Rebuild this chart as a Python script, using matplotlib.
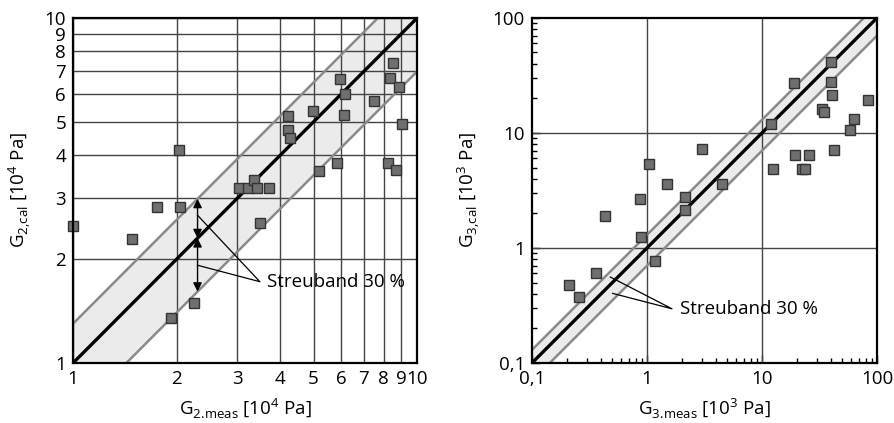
import matplotlib
matplotlib.use("Agg")
import matplotlib.pyplot as plt
from matplotlib.ticker import FixedLocator, FixedFormatter, NullFormatter, LogLocator
import numpy as np

plt.rcParams['font.family'] = ['Open Sans', 'DejaVu Sans']
plt.rcParams['mathtext.fontset'] = 'custom'
plt.rcParams['mathtext.rm'] = 'Open Sans'

# left panel: G2 [10^4 Pa]
g2_meas = [1.0, 1.48, 1.75, 2.03, 2.05, 1.92, 2.25, 3.04, 3.23, 3.35, 3.43, 3.71, 3.50,
           4.21, 4.21, 4.26, 4.99, 5.18, 5.84, 5.97, 6.16, 6.12, 7.48, 8.33, 8.53, 8.85,
           9.04, 8.24, 8.67]
g2_cal = [2.49, 2.28, 2.83, 4.13, 2.83, 1.35, 1.49, 3.21, 3.21, 3.38, 3.21, 3.21, 2.55,
          5.20, 4.74, 4.49, 5.36, 3.61, 3.81, 6.65, 6.02, 5.23, 5.75, 6.68, 7.41, 6.30,
          4.92, 3.79, 3.62]

# right panel: G3 [10^3 Pa]
g3_meas = [0.211, 0.255, 0.360, 0.434, 0.875, 0.886, 1.04, 1.18, 1.49, 2.13, 2.13, 3.01,
           4.49, 11.9, 12.5, 19.1, 19.4, 22.1, 23.8, 25.5, 33.5, 34.8, 40.1, 40.1, 40.9,
           42.6, 57.8, 62.6, 83.0]
g3_cal = [0.475, 0.374, 0.605, 1.91, 2.64, 1.24, 5.40, 0.77, 3.57, 2.79, 2.14, 7.21,
          3.57, 12.05, 4.82, 27.3, 6.38, 4.82, 4.82, 6.38, 16.2, 15.2, 41.3, 27.9, 21.3,
          7.11, 10.6, 13.2, 19.4]

band_hi = 1.3
band_lo = 0.7

left_ticks = [1, 2, 3, 4, 5, 6, 7, 8, 9, 10]
left_labels = ['1', '2', '3', '4', '5', '6', '7', '8', '9', '10']
right_ticks = [0.1, 1, 10, 100]
right_labels = ['0,1', '1', '10', '100']

fs = 13.5
band_fill = '#ebebeb'
band_edge = '#8a8a8a'
grid_col = '#444444'

fig = plt.figure(figsize=(8.94, 4.23), dpi=100)
ax1 = fig.add_axes([0.0817, 0.1418, 0.385, 0.816])
ax2 = fig.add_axes([0.595, 0.1418, 0.386, 0.816])


def draw_band(ax, lo, hi):
    xs = np.array([lo / 2, hi * 2])
    ax.fill_between(xs, xs * band_lo, xs * band_hi, color=band_fill, zorder=1, lw=0)
    ax.plot(xs, xs * band_hi, color=band_edge, lw=1.8, zorder=3)
    ax.plot(xs, xs * band_lo, color=band_edge, lw=1.8, zorder=3)
    ax.plot(xs, xs, color='black', lw=2.4, zorder=4)


def scatter(ax, x, y):
    ax.plot(x, y, 's', ms=7.5, mfc='#6f6f6f', mec='#333333', mew=1.0, zorder=6,
            clip_on=False)


# ---------------- left panel
ax = ax1
ax.set_xscale('log')
ax.set_yscale('log')
ax.set_xlim(1, 10)
ax.set_ylim(1, 10)
draw_band(ax, 1, 10)
for v in left_ticks:
    ax.axvline(v, color=grid_col, lw=1.0, zorder=2)
    ax.axhline(v, color=grid_col, lw=1.0, zorder=2)
scatter(ax, g2_meas, g2_cal)
ax.xaxis.set_major_locator(FixedLocator(left_ticks))
ax.xaxis.set_major_formatter(FixedFormatter(left_labels))
ax.yaxis.set_major_locator(FixedLocator(left_ticks))
ax.yaxis.set_major_formatter(FixedFormatter(left_labels))
ax.xaxis.set_minor_formatter(NullFormatter())
ax.yaxis.set_minor_formatter(NullFormatter())
ax.tick_params(which='both', length=0, labelsize=fs, pad=5)
ax.set_xlabel(r'G$_{\mathregular{2.\!meas}}$ [10$^{\mathregular{4}}$ Pa]', fontsize=fs,
              labelpad=6)
ax.set_ylabel(r'G$_{\mathregular{2{,}cal}}$ [10$^{\mathregular{4}}$ Pa]', fontsize=fs,
              labelpad=8)

# band arrows
xa = 2.3
ax.annotate('', xy=(xa, xa * band_hi), xytext=(xa, xa),
            arrowprops=dict(arrowstyle='<|-|>', color='black', lw=1.0,
                            mutation_scale=13, shrinkA=0, shrinkB=0), zorder=7)
ax.annotate('', xy=(xa, xa), xytext=(xa, xa * band_lo),
            arrowprops=dict(arrowstyle='<|-|>', color='black', lw=1.0,
                            mutation_scale=13, shrinkA=0, shrinkB=0), zorder=7)
ax.plot([xa, 3.49, xa], [2.68, 1.72, 1.92], color='black', lw=0.9, zorder=7)
ax.text(3.66, 1.72, 'Streuband 30 %', fontsize=fs, va='center', ha='left', zorder=8)

# ---------------- right panel
ax = ax2
ax.set_xscale('log')
ax.set_yscale('log')
ax.set_xlim(0.1, 100)
ax.set_ylim(0.1, 100)
draw_band(ax, 0.1, 100)
for v in [1, 10]:
    ax.axvline(v, color=grid_col, lw=1.0, zorder=2)
    ax.axhline(v, color=grid_col, lw=1.0, zorder=2)
scatter(ax, g3_meas, g3_cal)
ax.xaxis.set_major_locator(FixedLocator(right_ticks))
ax.xaxis.set_major_formatter(FixedFormatter(right_labels))
ax.yaxis.set_major_locator(FixedLocator(right_ticks))
ax.yaxis.set_major_formatter(FixedFormatter(right_labels))
ax.xaxis.set_minor_locator(LogLocator(base=10, subs=np.arange(2, 10)))
ax.yaxis.set_minor_locator(LogLocator(base=10, subs=np.arange(2, 10)))
ax.xaxis.set_minor_formatter(NullFormatter())
ax.yaxis.set_minor_formatter(NullFormatter())
ax.tick_params(which='major', direction='in', length=6, width=1.0, labelsize=fs, pad=5)
ax.tick_params(which='minor', direction='in', length=3.5, width=1.0)
ax.set_xlabel(r'G$_{\mathregular{3.\!meas}}$ [10$^{\mathregular{3}}$ Pa]', fontsize=fs,
              labelpad=6)
ax.set_ylabel(r'G$_{\mathregular{3{,}cal}}$ [10$^{\mathregular{3}}$ Pa]', fontsize=fs,
              labelpad=8)

ax.plot([0.48, 1.65, 0.503], [0.559, 0.296, 0.403], color='black', lw=0.9, zorder=7)
ax.text(1.93, 0.296, 'Streuband 30 %', fontsize=fs, va='center', ha='left', zorder=8)

for a in (ax1, ax2):
    for s in a.spines.values():
        s.set_linewidth(1.6)
        s.set_zorder(9)

fig.savefig('out.png', dpi=100)
